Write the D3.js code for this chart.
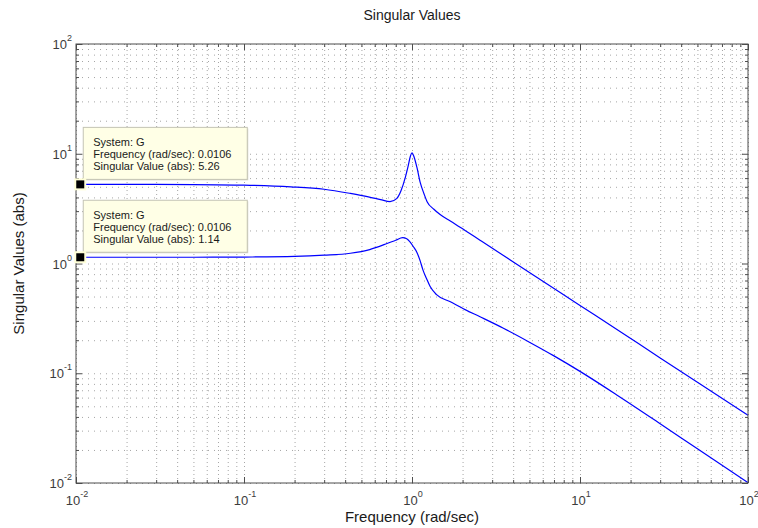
<!DOCTYPE html>
<html>
<head>
<meta charset="utf-8">
<script src="https://cdn.jsdelivr.net/npm/d3@7"></script>
<style>
  body { margin: 0; background: #fff; }
  svg { font-family: "Liberation Sans", Arial, Helvetica, sans-serif; }
</style>
</head>
<body>
<div id="chart"></div>
<script>
// frequency samples (rad/sec)
const freq = [0.01, 0.02, 0.05, 0.1, 0.19, 0.3, 0.43, 0.55, 0.65, 0.74, 0.81, 0.86, 0.91, 0.95,
  0.98, 1.0, 1.03, 1.07, 1.12, 1.18, 1.23, 1.35, 1.47, 1.7, 2.07, 2.54, 3.34, 5, 10, 17.3, 30, 50, 100];
const svUpper = [5.26, 5.26, 5.24, 5.18, 5.0, 4.75, 4.35, 4.05, 3.82, 3.66, 3.9, 4.6, 6.0, 7.8,
  9.6, 10.2, 9.3, 7.5, 5.45, 4.3, 3.66, 3.12, 2.79, 2.43, 2.0, 1.63, 1.24, 0.83, 0.415, 0.24, 0.138, 0.083, 0.0415];

const freqLower = [0.01, 0.05, 0.1, 0.2, 0.3, 0.43, 0.56, 0.71, 0.8, 0.88, 0.93, 0.97, 1.02, 1.07,
  1.12, 1.16, 1.22, 1.28, 1.4, 1.68, 2.07, 2.54, 3.5, 5, 7, 10, 17, 30, 50, 100];
const svLower = [1.14, 1.14, 1.145, 1.16, 1.19, 1.24, 1.34, 1.52, 1.63, 1.72, 1.68, 1.58, 1.42, 1.26,
  1.05, 0.88, 0.73, 0.62, 0.52, 0.45, 0.38, 0.327, 0.257, 0.192, 0.144, 0.104, 0.0618, 0.0347, 0.0205, 0.0101];

const xExponents = [-2, -1, 0, 1, 2];
const yExponents = [-2, -1, 0, 1, 2];

// data tips
const tipSystem = "G";
const tipFreq = 0.0106;
const tipValues = [5.26, 1.14];

const margin = { top: 44, right: 10, bottom: 45, left: 76 };
const width = 758 - margin.left - margin.right;
const height = 528 - margin.top - margin.bottom;

const root = d3.select("#chart")
  .append("svg")
  .attr("width", 758)
  .attr("height", 528);

const svg = root.append("g")
  .attr("transform", `translate(${margin.left},${margin.top})`);

const x = d3.scaleLog().domain([1e-2, 1e2]).range([0, width]);
const y = d3.scaleLog().domain([1e-2, 1e2]).range([height, 0]);

// major and minor tick values
const majors = xExponents.map(e => Math.pow(10, e));
const minors = [];
majors.slice(0, -1).forEach(d => {
  for (let k = 2; k <= 9; k++) minors.push(d * k);
});
const yMajors = yExponents.map(e => Math.pow(10, e));

const axisColor = "#4d4d4d";

// grid (dotted, majors and minors alike)
function grid(axis, cls, dash) {
  const g = svg.append("g").attr("class", cls).call(axis);
  g.select(".domain").remove();
  g.selectAll("text").remove();
  g.selectAll("line")
    .attr("stroke", "#a6a6a6")
    .attr("stroke-width", 1)
    .attr("stroke-dasharray", dash);
  return g;
}
grid(d3.axisBottom(x).tickValues(majors.concat(minors)).tickSize(-height).tickFormat(""), "x-grid", "1,3")
  .attr("transform", `translate(0,${height})`);
grid(d3.axisLeft(y).tickValues(yMajors.concat(minors)).tickSize(-width).tickFormat(""), "y-grid", "1,5");

// curves
const lineU = d3.line()
  .x((d, i) => x(freq[i]))
  .y(d => y(d))
  .curve(d3.curveMonotoneX);
const lineL = d3.line()
  .x((d, i) => x(freqLower[i]))
  .y(d => y(d))
  .curve(d3.curveMonotoneX);

svg.append("path")
  .datum(svUpper)
  .attr("fill", "none")
  .attr("stroke", "#0000ff")
  .attr("stroke-width", 1.2)
  .attr("d", lineU);

svg.append("path")
  .datum(svLower)
  .attr("fill", "none")
  .attr("stroke", "#0000ff")
  .attr("stroke-width", 1.2)
  .attr("d", lineL);

// ticks on all four sides, pointing inward
function ticks(axis, transform) {
  const g = svg.append("g").attr("transform", transform).call(axis);
  g.select(".domain").remove();
  g.selectAll("text").remove();
  g.selectAll("line").attr("stroke", axisColor);
}
ticks(d3.axisBottom(x).tickValues(majors).tickSize(-6).tickFormat(""), `translate(0,${height})`);
ticks(d3.axisBottom(x).tickValues(minors).tickSize(-3).tickFormat(""), `translate(0,${height})`);
ticks(d3.axisTop(x).tickValues(majors).tickSize(-6).tickFormat(""), "translate(0,0)");
ticks(d3.axisTop(x).tickValues(minors).tickSize(-3).tickFormat(""), "translate(0,0)");
ticks(d3.axisLeft(y).tickValues(yMajors).tickSize(-6).tickFormat(""), "translate(0,0)");
ticks(d3.axisLeft(y).tickValues(minors).tickSize(-3).tickFormat(""), "translate(0,0)");
ticks(d3.axisRight(y).tickValues(yMajors).tickSize(-6).tickFormat(""), `translate(${width},0)`);
ticks(d3.axisRight(y).tickValues(minors).tickSize(-3).tickFormat(""), `translate(${width},0)`);

// box
svg.append("rect")
  .attr("width", width)
  .attr("height", height)
  .attr("fill", "none")
  .attr("stroke", axisColor)
  .attr("stroke-width", 1);

// tick labels with superscript exponents
function powerLabel(sel, e) {
  sel.append("tspan").text("10");
  sel.append("tspan")
    .attr("dy", -8)
    .style("font-size", "9px")
    .text(e);
}

xExponents.forEach(e => {
  svg.append("text")
    .attr("x", x(Math.pow(10, e)) + 1)
    .attr("y", height + 22)
    .attr("text-anchor", "middle")
    .attr("fill", "#3c3c3c")
    .style("font-size", "13px")
    .call(powerLabel, e);
});

yExponents.forEach(e => {
  svg.append("text")
    .attr("x", -4)
    .attr("y", y(Math.pow(10, e)) + 5)
    .attr("text-anchor", "end")
    .attr("fill", "#3c3c3c")
    .style("font-size", "13px")
    .call(powerLabel, e);
});

// titles
root.append("text")
  .attr("x", margin.left + width / 2)
  .attr("y", 20)
  .attr("text-anchor", "middle")
  .attr("fill", "#1a1a1a")
  .style("font-size", "14px")
  .text("Singular Values");

root.append("text")
  .attr("x", margin.left + width / 2)
  .attr("y", 522)
  .attr("text-anchor", "middle")
  .attr("fill", "#1a1a1a")
  .style("font-size", "15px")
  .text("Frequency (rad/sec)");

root.append("text")
  .attr("transform", "rotate(-90)")
  .attr("x", -(margin.top + height / 2))
  .attr("y", 24)
  .attr("text-anchor", "middle")
  .attr("fill", "#1a1a1a")
  .style("font-size", "15px")
  .text("Singular Values (abs)");

// data tips
tipValues.forEach(v => {
  const px = x(tipFreq);
  const py = y(v);
  const boxW = 164, boxH = 52;
  const tip = svg.append("g")
    .attr("transform", `translate(${px + 3},${py - 5 - boxH})`);

  tip.append("rect")
    .attr("x", 1).attr("y", 1)
    .attr("width", boxW).attr("height", boxH)
    .attr("fill", "#d8d8cc");
  tip.append("rect")
    .attr("width", boxW).attr("height", boxH)
    .attr("fill", "#ffffe6")
    .attr("stroke", "#c4c4b4");

  const lines = [
    `System: ${tipSystem}`,
    `Frequency (rad/sec): ${tipFreq}`,
    `Singular Value (abs): ${v}`
  ];
  lines.forEach((t, i) => {
    tip.append("text")
      .attr("x", 10)
      .attr("y", 19 + i * 12)
      .attr("fill", "#1a1a1a")
      .style("font-size", "11px")
      .text(t);
  });

  svg.append("rect")
    .attr("x", px - 5).attr("y", py - 5)
    .attr("width", 10).attr("height", 10)
    .attr("fill", "#000")
    .attr("stroke", "#ffffd8")
    .attr("stroke-width", 2);
});
</script>
</body>
</html>
